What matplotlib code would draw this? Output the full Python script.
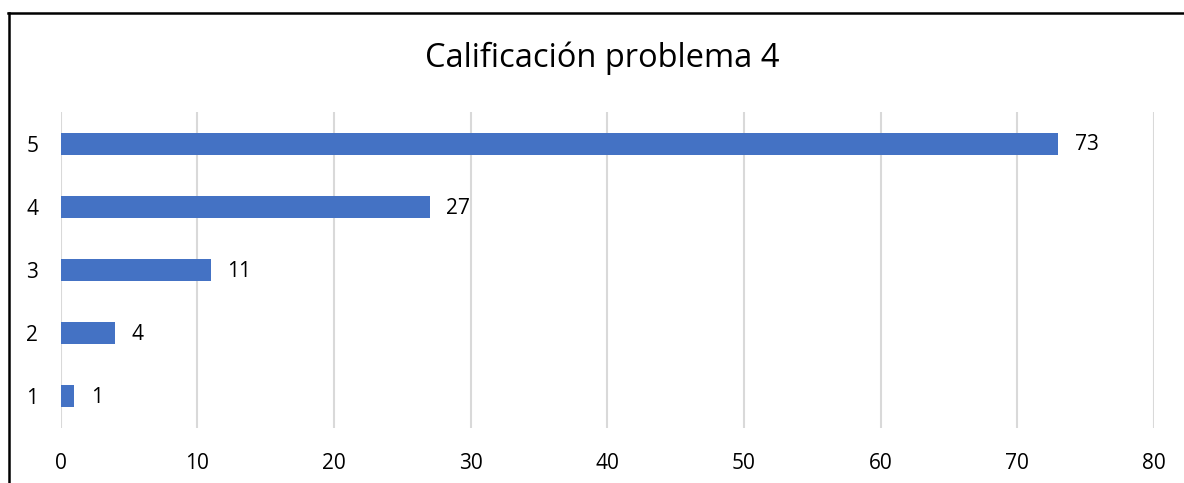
import matplotlib
matplotlib.use("Agg")
import matplotlib.pyplot as plt
from matplotlib.lines import Line2D

# datos del grafico
categorias = ["1", "2", "3", "4", "5"]
valores = [1, 4, 11, 27, 73]
ticks_x = [0, 10, 20, 30, 40, 50, 60, 70, 80]
titulo = "Calificación problema 4"

plt.rcParams['font.family'] = ['Open Sans', 'DejaVu Sans']

W, H = 1184, 483
fig = plt.figure(figsize=(W / 100, H / 100), dpi=100)
ax = fig.add_axes([60.5 / W, (H - 428) / H, (1154 - 60.5) / W, (428 - 112) / H])

pos = range(len(categorias))
ax.barh(pos, valores, height=0.35, color='#4472C4', zorder=3)

for p, v in zip(pos, valores):
    ax.annotate(str(v), xy=(v, p), xytext=(12, -1), textcoords='offset points',
                ha='left', va='center', fontsize=15, color='black')

ax.set_xlim(0, 80)
ax.set_ylim(-0.5, len(categorias) - 0.5)
ax.set_xticks(ticks_x)
ax.set_yticks(list(pos))
ax.set_yticklabels(categorias)
ax.tick_params(axis='both', length=0, labelsize=15, colors='black')
ax.tick_params(axis='y', pad=16)
ax.tick_params(axis='x', pad=18)
ax.grid(axis='x', color='#D9D9D9', linewidth=1.5, zorder=0)
for s in ax.spines.values():
    s.set_visible(False)

fig.text(602 / W, 1 - 58 / H, titulo, ha='center', va='center', fontsize=23.5, color='black')

# marco (solo se ve izquierda y arriba)
fig.add_artist(Line2D([9 / W, 9 / W], [0, 1 - 13 / H], color='black', linewidth=1.8))
fig.add_artist(Line2D([8 / W, 1], [1 - 13 / H, 1 - 13 / H], color='black', linewidth=1.8))

fig.savefig('out.png', dpi=100)
